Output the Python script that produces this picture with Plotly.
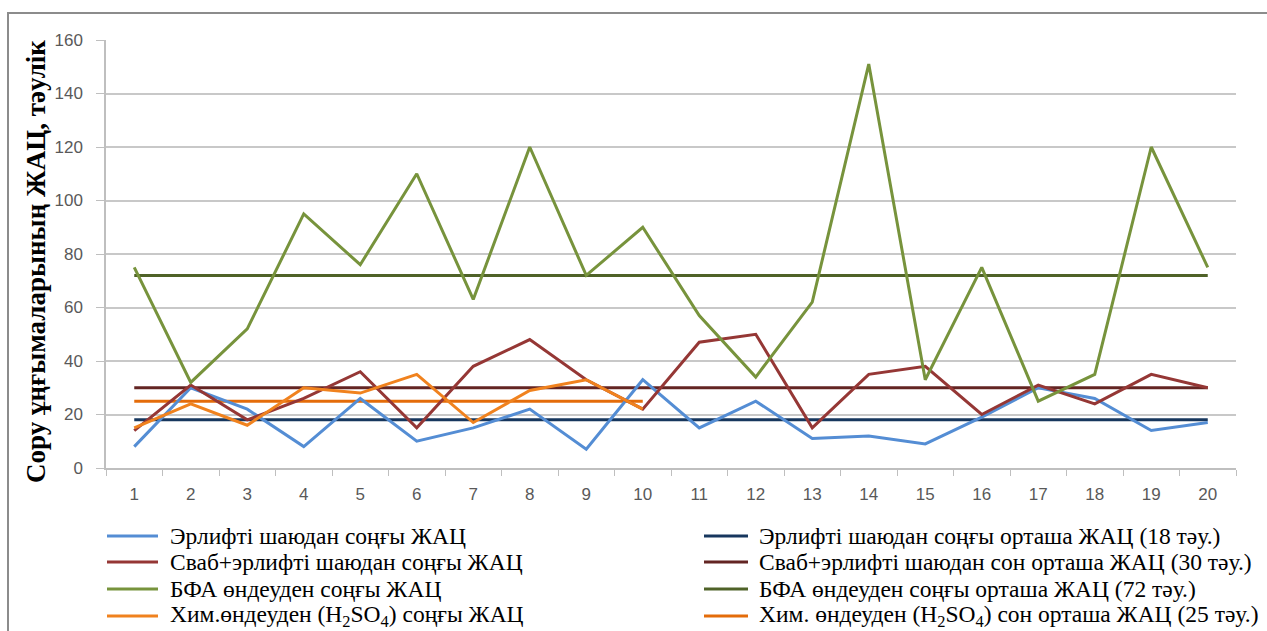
import plotly.graph_objects as go

# Well numbers along the x axis
wells = [str(i) for i in range(1, 21)]

# Time between repairs after each treatment, days
airlift = [8, 30, 22, 8, 26, 10, 15, 22, 7, 33, 15, 25, 11, 12, 9, 19, 30, 26, 14, 17]
swab_airlift = [14, 31, 18, 26, 36, 15, 38, 48, 33, 22, 47, 50, 15, 35, 38, 20, 31, 24, 35, 30]
bfa = [75, 32, 52, 95, 76, 110, 63, 120, 72, 90, 57, 34, 62, 151, 33, 75, 25, 35, 120, 75]
acid = [15, 24, 16, 30, 28, 35, 17, 29, 33, 22]

# Average values for each treatment
mean_airlift = 18
mean_swab = 30
mean_bfa = 72
mean_acid = 25

series_names = [
    "Эрлифті шаюдан соңғы ЖАЦ",
    "Сваб+эрлифті шаюдан соңғы ЖАЦ",
    "БФА өндеуден соңғы ЖАЦ",
    "Хим.өндеуден (H<sub>2</sub>SO<sub>4</sub>) соңғы ЖАЦ",
]
mean_names = [
    "Эрлифті шаюдан соңғы орташа ЖАЦ (18 тәу.)",
    "Сваб+эрлифті шаюдан сон орташа ЖАЦ (30 тәу.)",
    "БФА өндеуден соңғы орташа ЖАЦ (72 тәу.)",
    "Хим. өндеуден (H<sub>2</sub>SO<sub>4</sub>) сон орташа ЖАЦ (25 тәу.)",
]
y_ticks = [0, 20, 40, 60, 80, 100, 120, 140, 160]

series_colors = ["#548DD4", "#953735", "#77933C", "#F0821E"]
mean_colors = ["#17375E", "#632523", "#4F6228", "#E46C0A"]

SERIF = "Liberation Serif"
SANS = "Liberation Sans"

W, H = 1267, 631
ML, MR, MT, MB = 106, 31, 40, 163
PW, PH = W - ML - MR, H - MT - MB


def px_x(p):
    return (p - ML) / PW


def px_y(p):
    return (H - MB - p) / PH


fig = go.Figure()

series_values = [airlift, swab_airlift, bfa, acid]
mean_values = [mean_airlift, mean_swab, mean_bfa, mean_acid]

# Mean lines drawn beneath the data lines
for name, m, vals, col in zip(mean_names, mean_values, series_values, mean_colors):
    xs = wells[: len(vals)]
    fig.add_trace(go.Scatter(
        x=[xs[0], xs[-1]], y=[m, m], mode="lines", name=name,
        line=dict(color=col, width=3), showlegend=False, hoverinfo="skip",
    ))

for name, vals, col in zip(series_names, series_values, series_colors):
    fig.add_trace(go.Scatter(
        x=wells[: len(vals)], y=vals, mode="lines", name=name,
        line=dict(color=col, width=3), showlegend=False,
    ))

# Two-column legend beneath the plot
shapes = []
annotations = []
row_y = [536, 562, 589, 616]
for i in range(4):
    yy = px_y(row_y[i])
    shapes.append(dict(type="line", xref="paper", yref="paper",
                       x0=px_x(107), x1=px_x(158), y0=yy, y1=yy,
                       line=dict(color=series_colors[i], width=3)))
    annotations.append(dict(xref="paper", yref="paper", x=px_x(168), y=yy,
                            text=series_names[i], showarrow=False,
                            xanchor="left", yanchor="middle",
                            font=dict(family=SERIF, size=23.5, color="#000000")))
    shapes.append(dict(type="line", xref="paper", yref="paper",
                       x0=px_x(704), x1=px_x(748), y0=yy, y1=yy,
                       line=dict(color=mean_colors[i], width=3)))
    annotations.append(dict(xref="paper", yref="paper", x=px_x(757), y=yy,
                            text=mean_names[i], showarrow=False,
                            xanchor="left", yanchor="middle",
                            font=dict(family=SERIF, size=23.5, color="#000000")))

# Outer chart frame
shapes.append(dict(type="path", xref="paper", yref="paper",
                   path=f"M {px_x(8)},{px_y(700)} L {px_x(8)},{px_y(13)} L {px_x(1300)},{px_y(13)}",
                   line=dict(color="#8C8C8C", width=2), layer="above"))

# Axis title
annotations.append(dict(xref="paper", yref="paper", x=px_x(36), y=px_y(262),
                        text="<b>Сору ұңғымаларының ЖАЦ, тәулік</b>", textangle=-90,
                        showarrow=False, xanchor="center", yanchor="middle",
                        font=dict(family=SERIF, size=27, color="#000000")))

fig.update_layout(
    width=W, height=H,
    margin=dict(l=ML, r=MR, t=MT, b=MB),
    paper_bgcolor="white", plot_bgcolor="white",
    showlegend=False,
    shapes=shapes, annotations=annotations,
    xaxis=dict(
        type="category", categoryorder="array", categoryarray=wells,
        range=[-0.5, len(wells) - 0.5],
        showgrid=False, showline=True, linecolor="#BFBFBF", linewidth=1.5,
        ticks="outside", tickson="boundaries", ticklen=6, tickcolor="#BFBFBF",
        tickfont=dict(family=SANS, size=17, color="#595959"),
        ticklabelstandoff=10, zeroline=False,
    ),
    yaxis=dict(
        range=[0, 160], tickvals=y_ticks, ticktext=[str(v) for v in y_ticks],
        showgrid=True, gridcolor="#C8C8C8", gridwidth=1.5,
        showline=True, linecolor="#BFBFBF", linewidth=1.5,
        ticks="outside", ticklen=8, tickcolor="#BFBFBF",
        tickfont=dict(family=SANS, size=17, color="#595959"),
        ticklabelstandoff=10, zeroline=False,
    ),
)

fig.write_html("out.html")
